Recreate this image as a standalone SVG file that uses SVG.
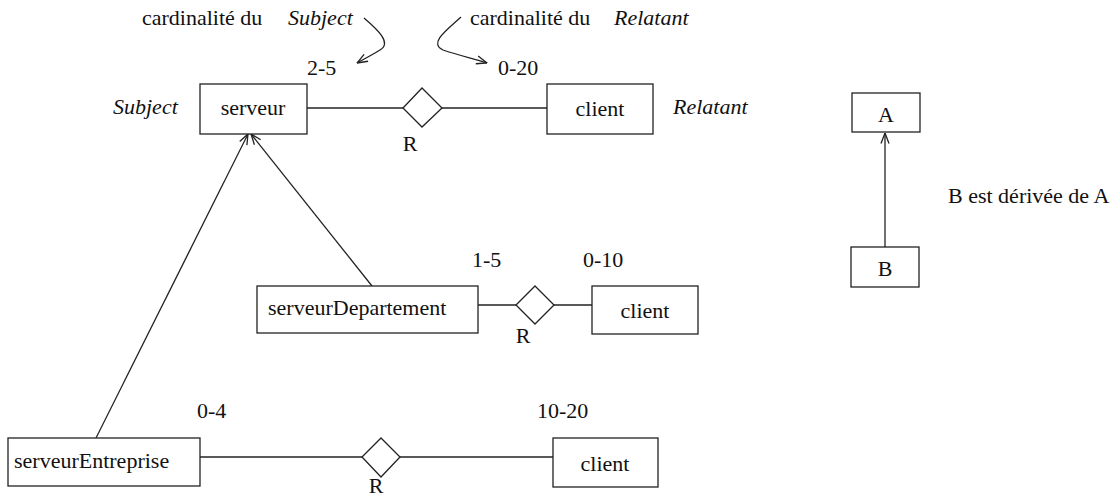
<svg xmlns="http://www.w3.org/2000/svg" width="1117" height="496" viewBox="0 0 1117 496" font-family="'Liberation Serif', 'DejaVu Serif', serif">
<style>
text{font-family:'Liberation Serif','DejaVu Serif',serif;font-size:22px;fill:#111}
.it{font-style:italic}
.mid{text-anchor:middle}
.box{fill:#fff;stroke:#222;stroke-width:1.3}
.ln{fill:none;stroke:#222;stroke-width:1.3}
</style>
<defs>
<marker id="open" viewBox="0 0 12 10" refX="11.5" refY="5" markerWidth="12" markerHeight="10" markerUnits="userSpaceOnUse" orient="auto">
<path d="M1,1 L11.5,5 L1,9" fill="none" stroke="#222" stroke-width="1.3"/>
</marker>
</defs>
<rect width="1117" height="496" fill="#fff"/>
<g id="connectors">
<line class="ln" x1="307" y1="108" x2="403" y2="108"/>
<line class="ln" x1="442" y1="108" x2="547" y2="108"/>
<line class="ln" x1="478" y1="305" x2="516" y2="305"/>
<line class="ln" x1="554" y1="305" x2="592" y2="305"/>
<line class="ln" x1="200" y1="457" x2="362" y2="457"/>
<line class="ln" x1="400" y1="457" x2="553" y2="457"/>
<line class="ln" x1="96" y1="438" x2="248" y2="134" marker-end="url(#open)"/>
<line class="ln" x1="372" y1="286" x2="251" y2="134" marker-end="url(#open)"/>
<line class="ln" x1="885" y1="247" x2="885" y2="133" marker-end="url(#open)"/>
<path class="ln" d="M364,18 C378,30 392,43 380,50 C372,55 364,59 357,63" marker-end="url(#open)"/>
<path class="ln" d="M461,17 C448,29 428,43 443,50 C458,55 474,59 487,63" marker-end="url(#open)"/>
</g>
<g id="annotations">
<text x="142" y="25">cardinalité du</text>
<text class="it" x="288" y="25">Subject</text>
<text x="470" y="25">cardinalité du</text>
<text class="it" x="614" y="25">Relatant</text>
<text x="307" y="75">2-5</text>
<text x="498" y="75">0-20</text>
<text class="it" x="113" y="114">Subject</text>
<text class="it" x="673" y="114">Relatant</text>
<text x="472" y="267">1-5</text>
<text x="583" y="267">0-10</text>
<text x="197" y="418">0-4</text>
<text x="537" y="418">10-20</text>
<text x="948" y="203">B est dérivée de A</text>
</g>
<g id="serveur">
<rect class="box" x="200" y="84" width="107" height="50"/>
<text class="mid" x="253" y="115">serveur</text>
</g>
<g id="R1">
<polygon class="box" points="422,88 442,108 422,127 403,108"/>
<text class="mid" x="410" y="151">R</text>
</g>
<g id="client1">
<rect class="box" x="547" y="84" width="106" height="50"/>
<text class="mid" x="600" y="116">client</text>
</g>
<g id="serveurDepartement">
<rect class="box" x="257" y="286" width="221" height="47"/>
<text x="268" y="315">serveurDepartement</text>
</g>
<g id="R2">
<polygon class="box" points="535,286 554,305 535,324 516,305"/>
<text class="mid" x="523" y="343">R</text>
</g>
<g id="client2">
<rect class="box" x="592" y="286" width="106" height="48"/>
<text class="mid" x="645" y="318">client</text>
</g>
<g id="serveurEntreprise">
<rect class="box" x="8" y="438" width="192" height="48"/>
<text x="14" y="468">serveurEntreprise</text>
</g>
<g id="R3">
<polygon class="box" points="381,438 400,457 381,477 362,457"/>
<text class="mid" x="376" y="493">R</text>
</g>
<g id="client3">
<rect class="box" x="553" y="438" width="105" height="49"/>
<text class="mid" x="605" y="471">client</text>
</g>
<g id="A">
<rect class="box" x="852" y="93" width="68" height="39"/>
<text class="mid" x="886" y="122">A</text>
</g>
<g id="B">
<rect class="box" x="851" y="247" width="68" height="40"/>
<text class="mid" x="885" y="276">B</text>
</g>
</svg>
